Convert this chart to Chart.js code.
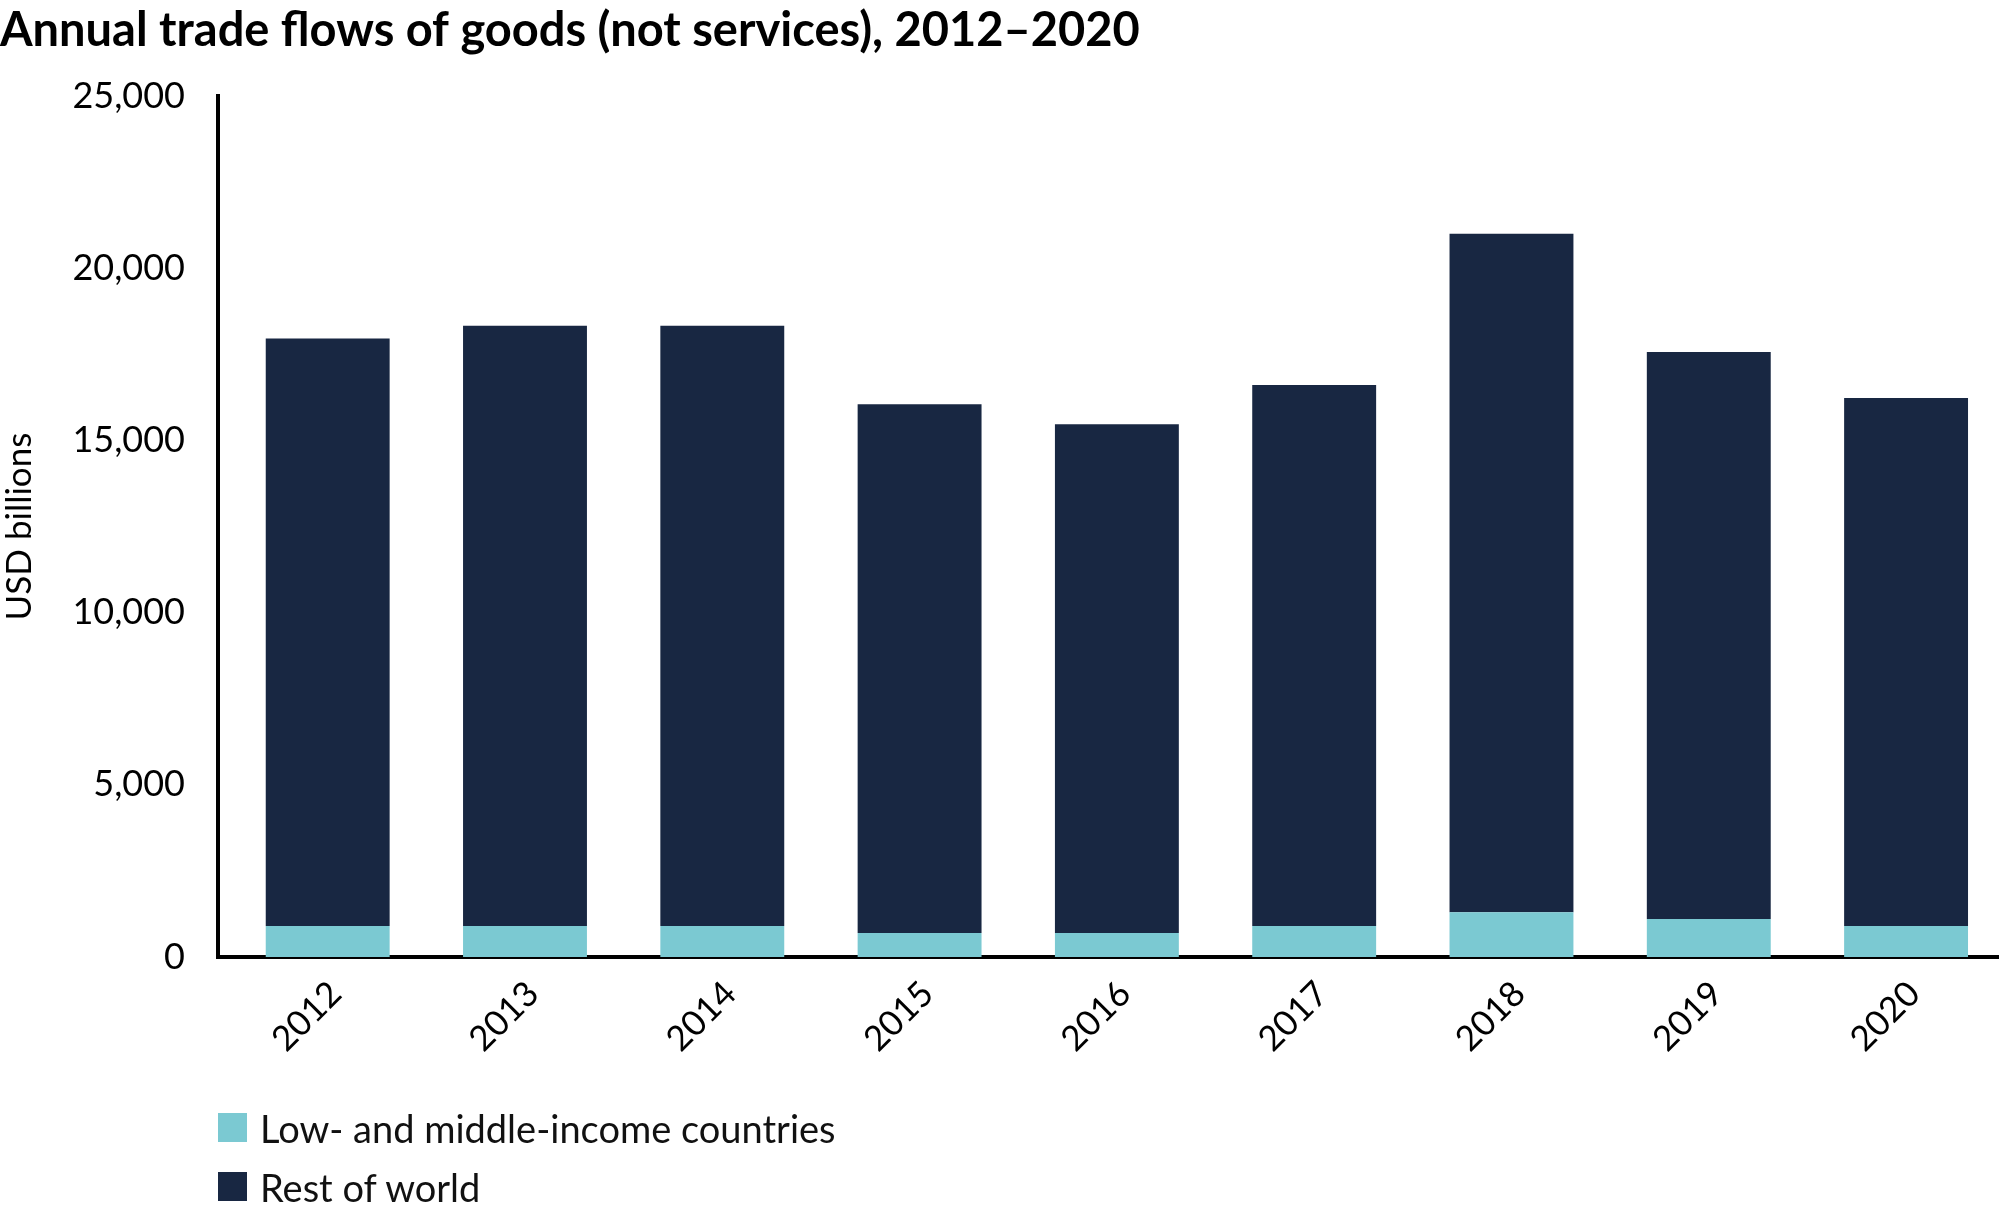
<!DOCTYPE html>
<html>
<head>
<meta charset="utf-8">
<script src="https://cdn.jsdelivr.net/npm/chart.js@4.4.1/dist/chart.umd.min.js"></script>
<style>
    html, body { margin: 0; padding: 0; background: #fff; overflow: hidden; }
    #wrap { position: relative; width: 1999px; height: 1212px; }
    #legend { position: absolute; left: 218px; top: 1113px; font-family: Lato, sans-serif; font-size: 38px; color: #111; }
    .item { display: flex; align-items: center; height: 29px; margin-bottom: 30px; white-space: nowrap; }
    .swatch { width: 29px; height: 29px; margin-right: 13px; flex: none; }
</style>
</head>
<body>
<div id="wrap">
    <canvas id="myChart" width="1999" height="1212"></canvas>
    <div id="legend"></div>
</div>
<script>
const TEAL = '#7bc9d2';
const NAVY = '#182742';
const FONT = 'Lato';

const TITLE = 'Annual trade flows of goods (not services), 2012\u20132020';
const Y_TITLE = 'USD billions';

// categories
const years = [2012, 2013, 2014, 2015, 2016, 2017, 2018, 2019, 2020];

// series (USD billions)
const seriesNames = ['Low- and middle-income countries', 'Rest of world'];
const lowMiddle = [900, 900, 900, 700, 700, 900, 1300, 1100, 900];
const restOfWorld = [17060, 17430, 17430, 15350, 14770, 15710, 19700, 16470, 15330];

// y ticks
const yTicks = [0, 5000, 10000, 15000, 20000, 25000];

function getDataset(label, values, color) {
    return {
        label,
        data: years.map((yr, i) => ({ x: yr, y: values[i] })),
        backgroundColor: color,
        borderWidth: 0,
        barPercentage: 0.628,
        categoryPercentage: 1
    };
}

function buildLegend(chart) {
    const box = document.getElementById('legend');
    chart.data.datasets.forEach(ds => {
        const item = document.createElement('div');
        item.className = 'item';
        const sw = document.createElement('span');
        sw.className = 'swatch';
        sw.style.background = ds.backgroundColor;
        const txt = document.createElement('span');
        txt.textContent = ds.label;
        item.appendChild(sw);
        item.appendChild(txt);
        box.appendChild(item);
    });
}

var ctx = document.getElementById('myChart').getContext('2d');

var chart = new Chart(ctx, {
    type: 'bar',
    data: {
        datasets: [
            getDataset(seriesNames[0], lowMiddle, TEAL),
            getDataset(seriesNames[1], restOfWorld, NAVY)
        ]
    },
    options: {
        responsive: false,
        animation: false,
        layout: { padding: 0 },
        plugins: {
            legend: { display: false },
            tooltip: { enabled: false },
            title: {
                display: true,
                text: TITLE,
                align: 'start',
                color: '#000',
                font: { family: FONT, weight: 'bold', size: 47 },
                padding: { top: 3, bottom: 36.6 }
            }
        },
        scales: {
            x: {
                type: 'linear',
                stacked: true,
                offset: false,
                // half a step either side, bars sit a little right of the y axis
                min: 2011.444,
                max: 2020.471,
                z: 1,
                grid: { display: false, drawTicks: false, offset: false },
                border: { display: true, color: '#000', width: 4 },
                ticks: {
                    stepSize: 1,
                    includeBounds: false,
                    autoSkip: false,
                    minRotation: 45,
                    maxRotation: 45,
                    padding: 16,
                    labelOffset: 8,
                    color: '#000',
                    font: { family: FONT, size: 35 },
                    callback: value => years.includes(value) ? String(value) : ''
                },
                afterFit: scale => { scale.height = 255; }
            },
            y: {
                stacked: true,
                min: yTicks[0],
                max: yTicks[yTicks.length - 1],
                z: 1,
                grid: { display: false, drawTicks: false },
                border: { display: true, color: '#000', width: 4 },
                afterBuildTicks: scale => { scale.ticks = yTicks.map(v => ({ value: v })); },
                ticks: {
                    padding: 33,
                    color: '#000',
                    font: { family: FONT, size: 36 },
                    callback: value => value.toLocaleString('en-US')
                },
                title: {
                    display: true,
                    text: Y_TITLE,
                    color: '#000',
                    font: { family: FONT, size: 35, lineHeight: 1 },
                    padding: { top: 2, bottom: 0 }
                },
                afterFit: scale => { scale.width = 218; }
            }
        }
    }
});

buildLegend(chart);
</script>
</body>
</html>
